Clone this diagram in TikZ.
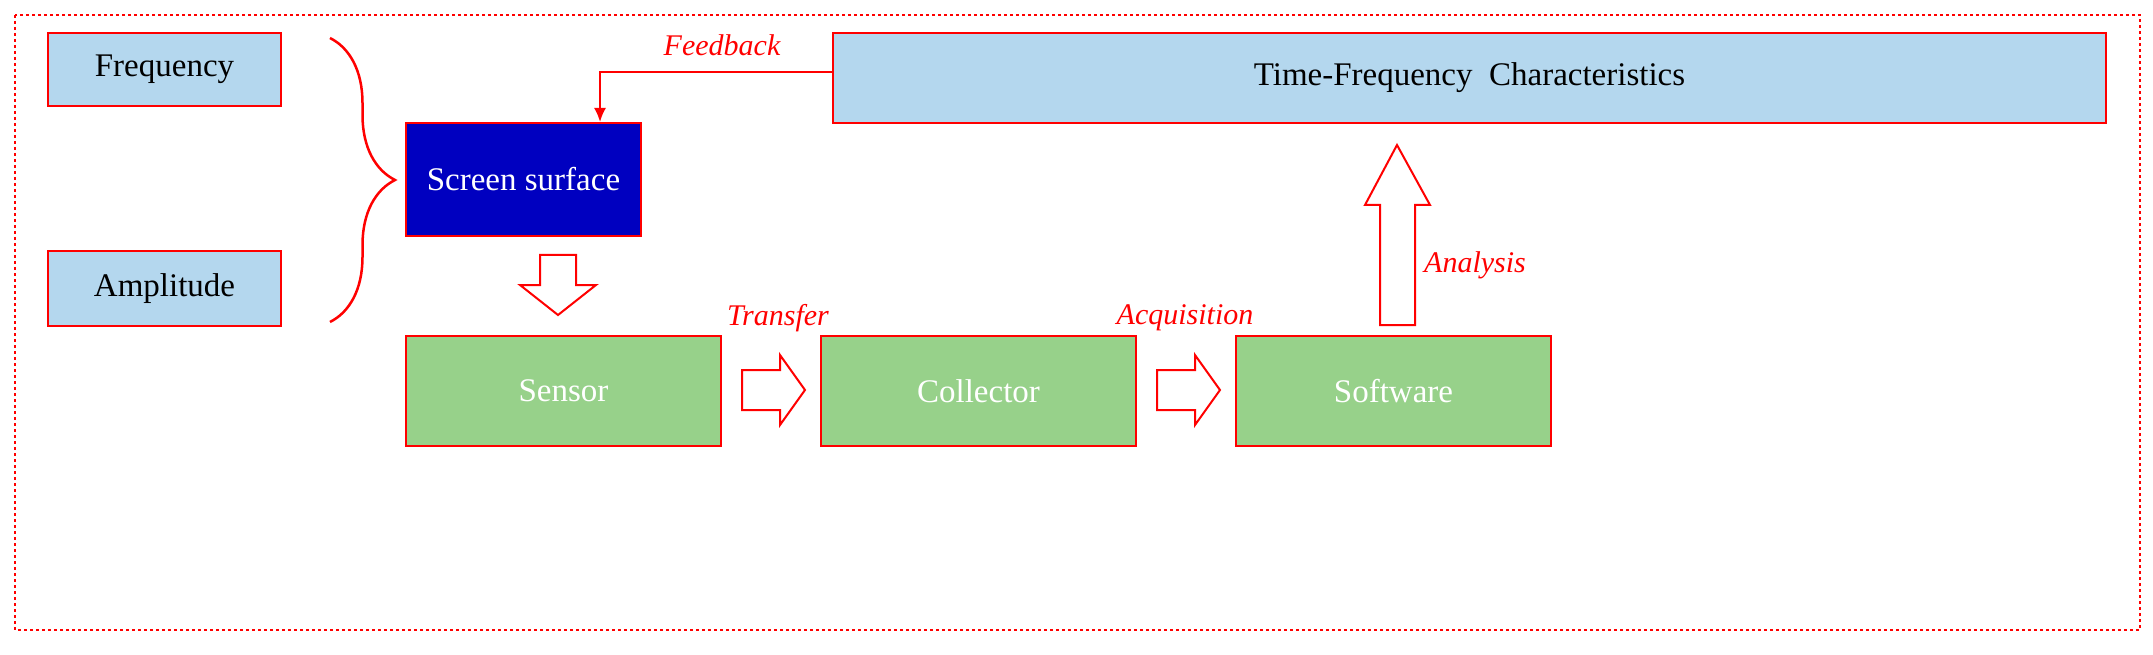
\documentclass[tikz,border=0pt]{standalone}
\usepackage{fontspec}
\setmainfont{Liberation Serif}
\usetikzlibrary{decorations.pathreplacing,arrows.meta}
\definecolor{lb}{HTML}{B4D7EE}
\definecolor{gr}{HTML}{97D18A}
\definecolor{db}{HTML}{0000C0}
\begin{document}
\begin{tikzpicture}[x=1pt,y=-1pt,
  box/.style={draw=red,line width=2pt,inner sep=0pt,anchor=north west,font=\fontsize{33}{40}\selectfont},
  blue box/.style={box,fill=lb,text=black},
  green box/.style={box,fill=gr,text=white},
  lbl/.style={text=red,font=\fontsize{30}{36}\selectfont\itshape},
  harrow/.style={draw=red,line width=2pt,fill=white,line join=miter}]
\useasboundingbox (0,0) rectangle (2153,655);
\draw[red,dashed,line width=1.5pt] (15,15) rectangle (2140,630);
\node[blue box,minimum width=233pt,minimum height=73pt] (freq) at (47,32) {Frequency};
\node[blue box,minimum width=233pt,minimum height=75pt] (amp) at (47,250) {Amplitude};
\node[box,fill=db,text=white,minimum width=235pt,minimum height=113pt] (scr) at (405,122) {Screen surface};
\node[blue box,minimum width=1273pt,minimum height=90pt] (tf) at (832,32) {Time-Frequency\ \ Characteristics};
\node[green box,minimum width=315pt,minimum height=110pt] (sen) at (405,335) {Sensor};
\node[green box,minimum width=315pt,minimum height=110pt] (col) at (820,335) {Collector};
\node[green box,minimum width=315pt,minimum height=110pt] (sw) at (1235,335) {Software};
\draw[red,line width=2.5pt,decoration={brace,amplitude=65pt},decorate] (330,38) -- (330,322);
\coordinate (fb) at (600,72);
\draw[red,line width=2pt,-{Latex[length=14pt,width=12pt]}] (tf.west|-fb) -- (fb) -- (fb|-scr.north);
\node[lbl] (fbl) at (722,45) {Feedback};
% hollow block arrows
\draw[harrow] (540,255) -- (576,255) -- (576,285) -- (596,285) -- (558,315) -- (520,285) -- (540,285) -- cycle;
\draw[harrow] (742,370) -- (780,370) -- (780,355) -- (805,390) -- (780,425) -- (780,410) -- (742,410) -- cycle;
\draw[harrow] (1157,370) -- (1195,370) -- (1195,355) -- (1220,390) -- (1195,425) -- (1195,410) -- (1157,410) -- cycle;
\draw[harrow] (1380,325) -- (1380,205) -- (1365,205) -- (1397,145) -- (1430,205) -- (1415,205) -- (1415,325) -- cycle;
\node[lbl] (tl) at (778,318) {Transfer};
\node[lbl] (al) at (1185,318) {Acquisition};
\node[lbl] (anl) at (1475,265) {Analysis};
\end{tikzpicture}
\end{document}
